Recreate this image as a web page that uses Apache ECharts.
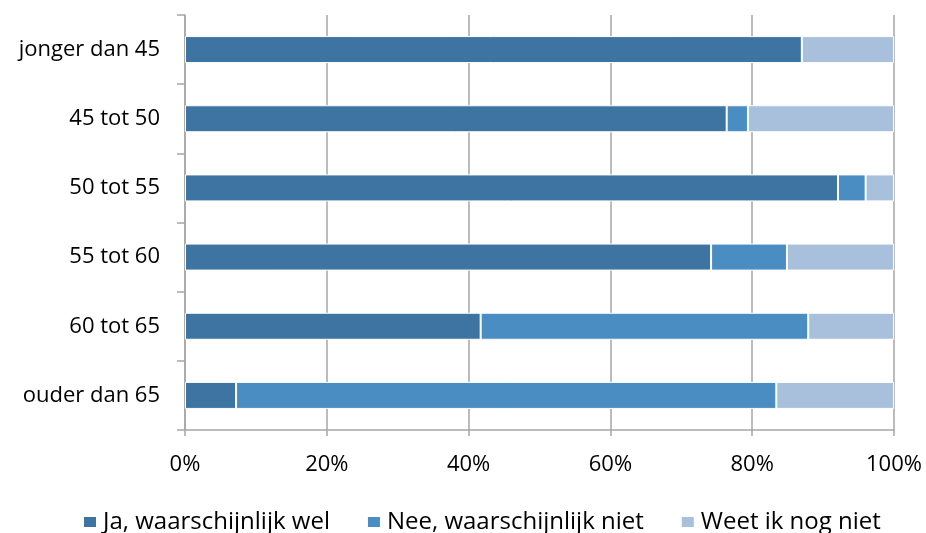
<!DOCTYPE html>
<html>
<head>
<meta charset="utf-8">
<script src="https://cdn.jsdelivr.net/npm/echarts@6/dist/echarts.min.js"></script>
<style>
  html, body { margin: 0; padding: 0; background: #fff; }
  #chart { width: 926px; height: 533px; }
</style>
</head>
<body>
<div id="chart"></div>
<script>
// Age groups, top to bottom
const categories = ['jonger dan 45', '45 tot 50', '50 tot 55', '55 tot 60', '60 tot 65', 'ouder dan 65'];

// Share of answers per age group (%)
const jaValues = [87.0, 76.4, 92.1, 74.2, 41.7, 7.2];
const neeValues = [0.0, 3.0, 3.9, 10.7, 46.2, 76.2];
const weetValues = [13.0, 20.6, 4.0, 15.1, 12.1, 16.6];

const seriesNames = ['Ja, waarschijnlijk wel', 'Nee, waarschijnlijk niet', 'Weet ik nog niet'];
const xTicks = [0, 20, 40, 60, 80, 100];

const colors = ['#3e74a1', '#4a8dc3', '#a9c0dc'];
const font = '"Open Sans", Lato, sans-serif';

const chart = echarts.init(document.getElementById('chart'), null, { renderer: 'canvas' });

const makeSeries = (name, data, color) => ({
  name: name,
  type: 'bar',
  stack: 'total',
  data: data,
  barWidth: 27,
  itemStyle: { color: color, borderColor: '#ffffff', borderWidth: 1 },
  emphasis: { disabled: true }
});

chart.setOption({
  animation: false,
  color: colors,
  grid: { left: 185, right: 32, top: 15, bottom: 103, containLabel: false },
  legend: {
    bottom: -6,
    left: 77,
    itemWidth: 14,
    itemHeight: 12,
    itemGap: 36,
    icon: 'rect',
    textStyle: { fontFamily: font, fontSize: 24, color: '#000', padding: [0, 0, 0, 1] },
    data: seriesNames
  },
  xAxis: {
    type: 'value',
    min: xTicks[0],
    max: xTicks[xTicks.length - 1],
    interval: 20,
    axisLine: { show: true, lineStyle: { color: '#a6a6a6', width: 1.5 } },
    axisTick: { show: true, length: 6, lineStyle: { color: '#a6a6a6', width: 1.5 } },
    splitLine: { show: true, lineStyle: { color: '#a6a6a6', width: 1.5 } },
    axisLabel: {
      margin: 24,
      fontFamily: font,
      fontSize: 22,
      color: '#000',
      formatter: v => v + '%'
    }
  },
  yAxis: {
    type: 'category',
    inverse: true,
    data: categories,
    axisLine: { show: true, lineStyle: { color: '#a6a6a6', width: 1.5 } },
    axisTick: { show: true, length: 8, lineStyle: { color: '#a6a6a6', width: 1.5 } },
    axisLabel: { margin: 25, fontFamily: font, fontSize: 22, color: '#000' }
  },
  series: [
    makeSeries(seriesNames[0], jaValues, colors[0]),
    makeSeries(seriesNames[1], neeValues, colors[1]),
    makeSeries(seriesNames[2], weetValues, colors[2])
  ]
});
</script>
</body>
</html>
